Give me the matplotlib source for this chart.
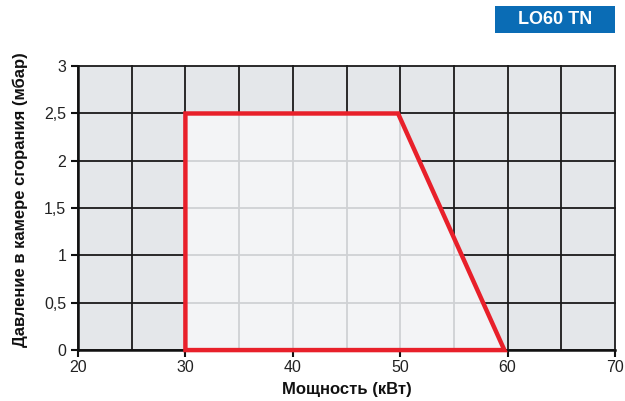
import matplotlib
matplotlib.use("Agg")
import matplotlib.pyplot as plt
from matplotlib.patches import Polygon, Rectangle
import numpy as np

plt.rcParams['font.family'] = ['Liberation Sans', 'DejaVu Sans']

poly_x = [30, 30, 49.8, 59.7]
poly_y = [0, 2.5, 2.5, 0]
x_ticks = [20, 30, 40, 50, 60, 70]
x_grid = [20, 25, 30, 35, 40, 45, 50, 55, 60, 65, 70]
y_ticks = [0, 0.5, 1, 1.5, 2, 2.5, 3]
y_labels = ['0', '0,5', '1', '1,5', '2', '2,5', '3']
title = 'LO60 TN'
xlabel = 'Мощность (кВт)'
ylabel = 'Давление в камере сгорания (мбар)'

fig = plt.figure(figsize=(6.25, 4.01), dpi=100)
ax = fig.add_axes([0.1248, 0.127, 0.8592, 0.708])
ax.set_xlim(20, 70)
ax.set_ylim(0, 3)
ax.set_facecolor('#e4e7ea')

for xv in x_grid:
    ax.plot([xv, xv], [0, 3], color='#1a1a1a', lw=1.3, zorder=1, clip_on=False)
for yv in y_ticks:
    ax.plot([20, 70], [yv, yv], color='#1a1a1a', lw=1.3, zorder=1, clip_on=False)

pts = np.column_stack([poly_x, poly_y])
fill = Polygon(pts, closed=True, facecolor='#f3f4f6', edgecolor='none', zorder=2)
ax.add_patch(fill)
for xv in x_grid:
    l, = ax.plot([xv, xv], [0, 3], color='#cfd1d4', lw=1.3, zorder=3)
    l.set_clip_path(fill)
for yv in y_ticks:
    l, = ax.plot([20, 70], [yv, yv], color='#cfd1d4', lw=1.3, zorder=3)
    l.set_clip_path(fill)
ax.add_patch(Polygon(pts, closed=True, facecolor='none', edgecolor='#e8202a',
                     lw=3.2, joinstyle='miter', zorder=5, clip_on=False))

for s in ['top', 'right']:
    ax.spines[s].set_visible(False)
for s in ['left', 'bottom']:
    ax.spines[s].set_linewidth(1.8)
    ax.spines[s].set_color('#111111')
    ax.spines[s].set_zorder(4)

ax.set_xticks(x_ticks)
ax.set_xticklabels([str(v) for v in x_ticks])
ax.set_yticks(y_ticks)
ax.set_yticklabels(y_labels)
ax.tick_params(axis='both', direction='out', length=5, width=1.5, color='#111111',
               labelsize=11.5, labelcolor='#222222')
ax.tick_params(axis='x', pad=2)
ax.set_xlabel(xlabel, fontsize=12, fontweight='bold', color='#111111', labelpad=5)
ax.set_ylabel(ylabel, fontsize=12, fontweight='bold', color='#111111', labelpad=11)
ax.yaxis.set_label_coords(-0.093, 0.53)

fig.patches.append(Rectangle((0.792, 0.9177), 0.192, 0.0673,
                   transform=fig.transFigure, facecolor='#0a6cb5', edgecolor='none', zorder=0))
fig.text(0.888, 0.951, title, ha='center', va='center', fontsize=13, fontweight='bold',
         color='white')

fig.savefig('out.png', dpi=100)
